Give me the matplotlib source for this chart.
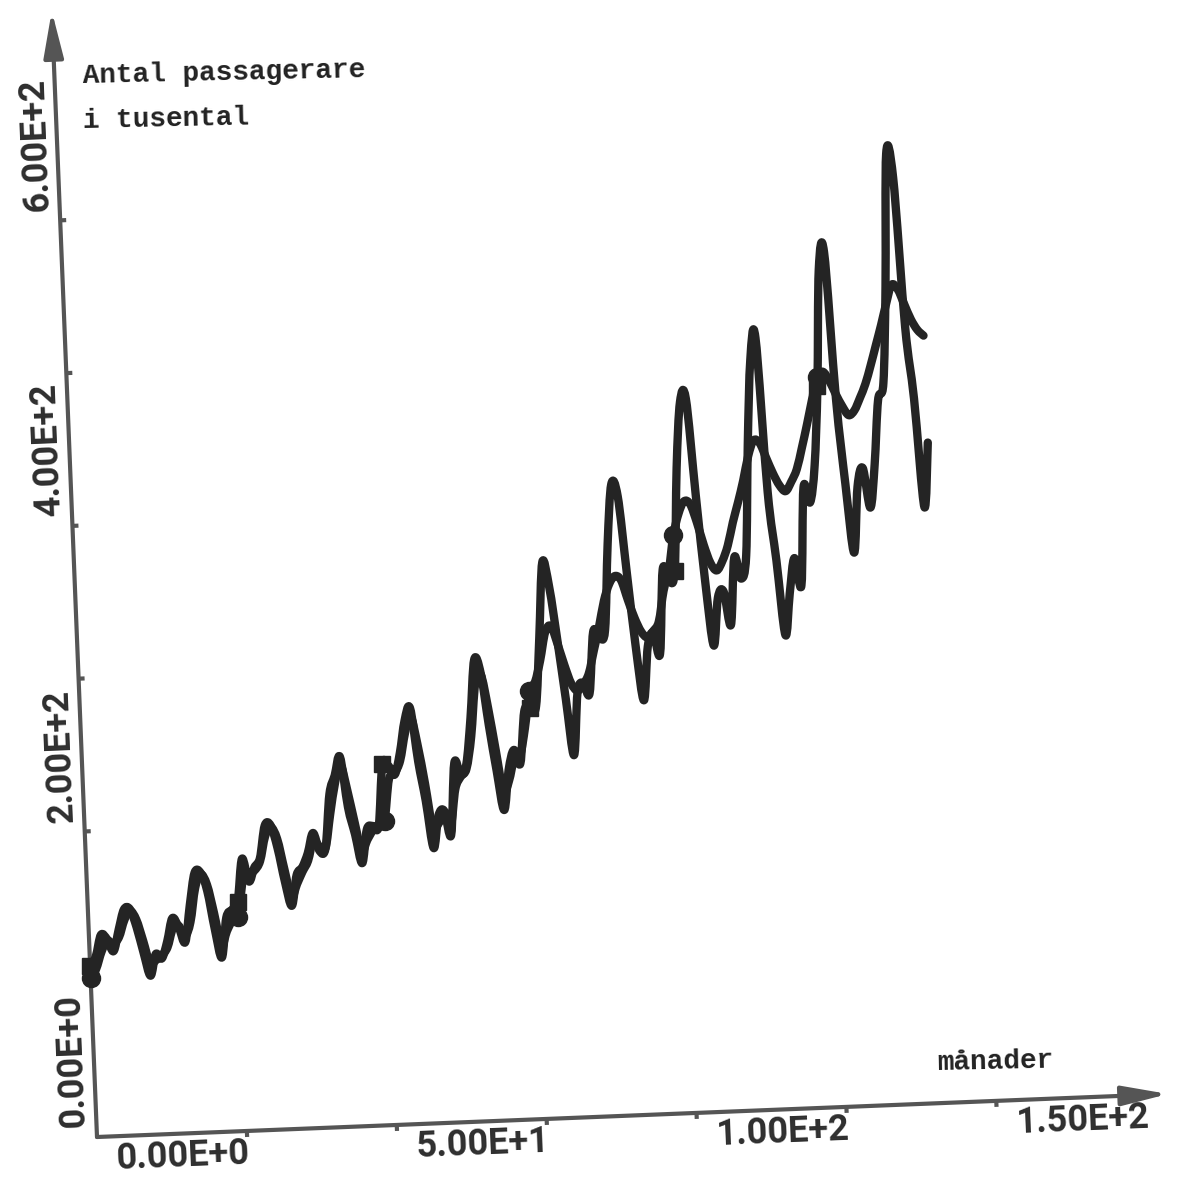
import numpy as np
import matplotlib
matplotlib.use("Agg")
import matplotlib.pyplot as plt
from matplotlib.transforms import Affine2D
from matplotlib.patches import FancyArrowPatch, PathPatch
from matplotlib.path import Path

# Monthly airline passengers (thousands), Jan 1949 - Dec 1960
passengers = [
    112, 118, 132, 129, 121, 135, 148, 148, 136, 119, 104, 118,
    115, 126, 141, 135, 125, 149, 170, 170, 158, 133, 114, 140,
    145, 150, 178, 163, 172, 178, 199, 199, 184, 162, 146, 166,
    171, 180, 193, 181, 183, 218, 230, 242, 209, 191, 172, 194,
    196, 196, 236, 235, 229, 243, 264, 272, 237, 211, 180, 201,
    204, 188, 235, 227, 234, 264, 302, 293, 259, 229, 203, 229,
    242, 233, 267, 269, 270, 315, 364, 347, 312, 274, 237, 278,
    284, 277, 317, 313, 318, 374, 413, 405, 355, 306, 271, 306,
    315, 301, 356, 348, 355, 422, 465, 467, 404, 347, 305, 336,
    340, 318, 362, 348, 363, 435, 491, 505, 404, 359, 310, 337,
    360, 342, 406, 396, 420, 472, 548, 559, 463, 407, 362, 405,
    417, 391, 419, 461, 472, 535, 622, 606, 508, 461, 390, 432,
]

# Smoothed model curve
fitted = [
    104, 110, 121, 128, 126, 130, 141, 147, 141, 127, 112, 114,
    117, 122, 134, 136, 129, 138, 160, 169, 162, 143, 122, 131,
    138, 140, 164, 168, 170, 176, 192, 198, 190, 170, 152, 160,
    168, 175, 188, 184, 183, 205, 225, 237, 220, 199, 180, 187,
    193, 195, 199, 226, 230, 238, 256, 267, 248, 222, 193, 196,
    201, 194, 218, 226, 231, 252, 286, 292, 270, 242, 215, 222,
    236, 238, 256, 280, 286, 300, 318, 322, 310, 296, 284, 279,
    283, 290, 305, 320, 337, 348, 353, 350, 337, 325, 316, 312,
    316, 322, 342, 355, 378, 392, 400, 398, 386, 371, 359, 354,
    360, 370, 385, 398, 412, 428, 438, 436, 426, 416, 408, 404,
    410, 418, 432, 447, 463, 478, 481, 475, 466, 458, 452, 455,
    463, 472, 484, 497, 510, 524, 536, 533, 523, 513, 506, 502,
]

months = np.arange(len(passengers))

x_ticks = [25, 50, 75, 100, 125, 150]
x_labels = {0: "0.00E+0", 50: "5.00E+1", 100: "1.00E+2", 150: "1.50E+2"}
y_ticks = [100, 200, 300, 400, 500, 600]
y_labels = {0: "0.00E+0", 200: "2.00E+2", 400: "4.00E+2", 600: "6.00E+2"}
mark_every = 25


def smooth_path(x, y):
    """Catmull-Rom curve through the points, as cubic Bezier segments."""
    pts = np.column_stack([x, y]).astype(float)
    ext = np.vstack([pts[0], pts, pts[-1]])
    verts = [pts[0]]
    codes = [Path.MOVETO]
    for i in range(len(pts) - 1):
        p0, p1, p2, p3 = ext[i], ext[i + 1], ext[i + 2], ext[i + 3]
        verts += [p1 + (p2 - p0) / 6, p2 - (p3 - p1) / 6, p2]
        codes += [Path.CURVE4] * 3
    return Path(verts, codes)


W, H, DPI = 1184, 1178, 100
fig = plt.figure(figsize=(W / DPI, H / DPI), dpi=DPI)
fig.patch.set_facecolor("white")
ax = fig.add_axes([0, 0, 1, 1])
ax.set_axis_off()

# plotter frame: origin in pixels, scale of each axis, and the sheet's tilt
ox, oy = 97, 41
px_month = 6.0
px_unit = 1.529
tilt = 2.3
ax.set_xlim(-ox / px_month, (W - ox) / px_month)
ax.set_ylim(-oy / px_unit, (H - oy) / px_unit)
tr = ax.transData + Affine2D().rotate_deg_around(ox, oy, tilt)

ink = "#242424"
axis_col = "#555555"

# data curves
for series, mk, ms in [(passengers, "s", 11), (fitted, "o", 13)]:
    ax.add_patch(PathPatch(smooth_path(months, series), facecolor="none",
                           edgecolor=ink, lw=6, transform=tr,
                           joinstyle="round", capstyle="round", zorder=3))
    ax.plot(months, series, linestyle="none", color=ink, transform=tr,
            marker=mk, markevery=mark_every, ms=ms, zorder=4)

# axes with arrow heads
y_top = 1127 / px_unit
x_end = 1072 / px_month
for end in [(0, y_top), (x_end, 0)]:
    arr = FancyArrowPatch((0, 0), end, transform=tr,
                          arrowstyle="-|>,head_length=1.4,head_width=0.3",
                          mutation_scale=20, lw=3, color=axis_col,
                          shrinkA=0, shrinkB=0, zorder=2)
    ax.add_patch(arr)

# tick marks
ax.vlines(x_ticks, -6 / px_unit, 0, colors=axis_col, lw=3, transform=tr)
ax.hlines(y_ticks, 0, 6 / px_month, colors=axis_col, lw=3, transform=tr)

# tick labels
lab_font = dict(family=["Roboto", "DejaVu Sans"], weight="bold", size=26,
                color="#2e2e2e")
for t, s in x_labels.items():
    ax.text(t + 18 / px_month, -5 / px_unit, s, transform=tr,
            ha="left", va="top", rotation=tilt, rotation_mode="anchor",
            **lab_font)
for t, s in y_labels.items():
    ax.text(-4 / px_month, t + 10 / px_unit, s, transform=tr,
            ha="left", va="bottom", rotation=90 + tilt,
            rotation_mode="anchor", **lab_font)

# captions
txt_font = dict(family=["Liberation Mono", "DejaVu Sans Mono"],
                weight="bold", size=20, color="#222222")
fig.text(83 / W, 1 - 83 / H, "Antal passagerare", ha="left", va="baseline",
         rotation=1.2, rotation_mode="anchor", **txt_font)
fig.text(83 / W, 1 - 128 / H, "i tusental", ha="left", va="baseline",
         rotation=1.2, rotation_mode="anchor", **txt_font)
fig.text(937 / W, 1 - 1070 / H, "månader", ha="left", va="baseline",
         rotation=1.2, rotation_mode="anchor", **txt_font)

fig.savefig("out.png", dpi=DPI, facecolor="white")
